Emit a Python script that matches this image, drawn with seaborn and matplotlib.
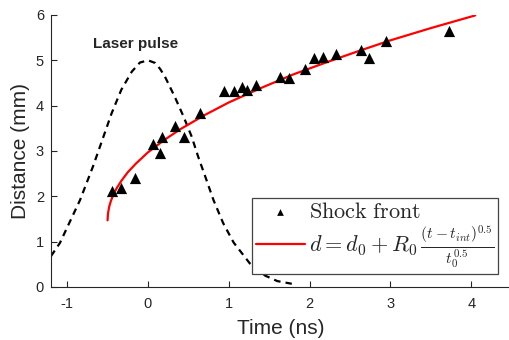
import seaborn as sns
import matplotlib.pyplot as plt

# Shock front positions (ns, mm)
shock_t = [-0.45, -0.33, -0.16, 0.06, 0.15, 0.17, 0.33, 0.45, 0.64, 0.94, 1.06, 1.16,
           1.22, 1.34, 1.63, 1.74, 1.94, 2.05, 2.17, 2.33, 2.64, 2.73, 2.95, 3.72]
shock_d = [2.12, 2.18, 2.40, 3.15, 2.96, 3.30, 3.55, 3.30, 3.83, 4.33, 4.33, 4.40,
           4.35, 4.46, 4.64, 4.62, 4.81, 5.05, 5.08, 5.14, 5.23, 5.06, 5.42, 5.65]

# Fitted curve
fit_t = [-0.50, -0.495, -0.48, -0.46, -0.43, -0.39, -0.33, -0.25, -0.15, 0.0, 0.2, 0.4,
         0.7, 1.0, 1.4, 1.8, 2.2, 2.6, 3.0, 3.5, 4.05]
fit_d = [1.47, 1.62, 1.77, 1.89, 2.03, 2.17, 2.34, 2.53, 2.72, 2.97, 3.24, 3.48,
         3.79, 4.07, 4.39, 4.69, 4.95, 5.20, 5.44, 5.71, 5.99]

# Laser pulse profile (scaled)
pulse_t = [-1.2, -1.09, -0.84, -0.68, -0.55, -0.45, -0.33, -0.2, -0.1, 0.0, 0.09, 0.15,
           0.21, 0.33, 0.44, 0.54, 0.62, 0.71, 0.81, 0.93, 1.06, 1.26, 1.45, 1.6, 1.78]
pulse_d = [0.68, 0.97, 1.92, 2.66, 3.32, 3.83, 4.35, 4.75, 4.95, 5.0, 4.94, 4.81,
           4.64, 4.20, 3.76, 3.32, 2.88, 2.43, 1.92, 1.41, 0.98, 0.52, 0.25, 0.13, 0.07]

sns.set_style('ticks')
plt.rcParams['font.family'] = ['Liberation Sans', 'DejaVu Sans']
plt.rcParams['mathtext.fontset'] = 'cm'
plt.rcParams['axes.unicode_minus'] = False

fig = plt.figure(figsize=(5.1, 3.4), dpi=100)
ax = fig.add_axes([0.1, 0.156, 0.9, 0.8])

sns.lineplot(x=pulse_t, y=pulse_d, ax=ax, color='black', lw=1.6,
             dashes=False, legend=False, sort=False)
ax.lines[-1].set_dashes((3, 2.3))
sns.lineplot(x=fit_t, y=fit_d, ax=ax, color='red', lw=1.6, legend=False, sort=False)
fit_line = ax.lines[-1]
sns.scatterplot(x=shock_t, y=shock_d, ax=ax, marker='^', color='black', s=65,
                edgecolor='black', linewidth=0, legend=False, zorder=3)
shock_pts = ax.collections[-1]

ax.text(-0.15, 5.35, 'Laser pulse', ha='center', va='center',
        fontsize=11, fontweight='bold')

ax.set_xlim(-1.2, 4.48)
ax.set_ylim(0, 6)
ax.set_xticks([-1, 0, 1, 2, 3, 4])
ax.set_yticks([0, 1, 2, 3, 4, 5, 6])
ax.set_xlabel('Time (ns)', fontsize=15, labelpad=6)
ax.set_ylabel('Distance (mm)', fontsize=15, labelpad=4)
ax.tick_params(direction='in', length=4, width=0.8, labelsize=10.5, colors='#262626')
ax.tick_params(axis='x', pad=7)
ax.tick_params(axis='y', pad=5)
for s in ['left', 'bottom']:
    ax.spines[s].set_color('#262626')
    ax.spines[s].set_linewidth(0.8)
sns.despine(ax=ax)

leg = ax.legend([shock_pts, fit_line],
                [r'$\mathrm{Shock\ front}$',
                 r'$d = d_0 + R_0\,\frac{(t-t_{int})^{0.5}}{t_0^{0.5}}$'],
                loc='lower right', bbox_to_anchor=(0.976, 0.194),
                bbox_transform=fig.transFigure, borderaxespad=0,
                fontsize=16, fancybox=False, framealpha=1, edgecolor='#444444',
                handlelength=2.2, handletextpad=0.2, borderpad=0.15,
                labelspacing=0.05, markerscale=0.6)
leg.get_frame().set_linewidth(0.9)
leg.set_zorder(10)

fig.savefig('out.png', dpi=100)
